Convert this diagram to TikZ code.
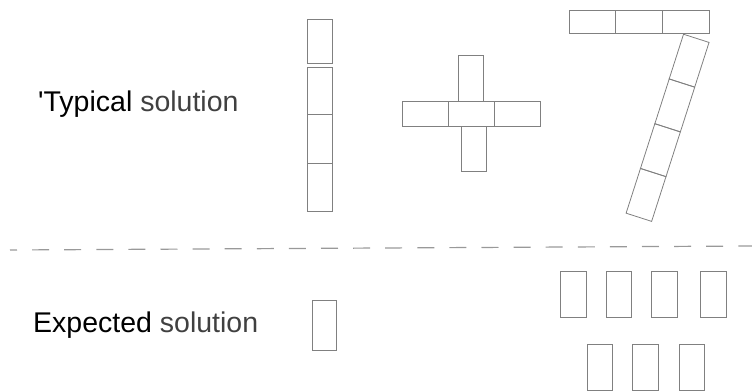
\documentclass[tikz,border=0pt]{standalone}
\usepackage{fontspec}
\newfontfamily\lbl{Liberation Sans}[Ligatures=TeXOff]
\begin{document}
\begin{tikzpicture}[x=1pt,y=-1pt,
  brick/.style={draw=black!50,line width=0.8pt},
  rbrick/.style={draw=black!50,line width=0.8pt,rectangle,inner sep=0pt,outer sep=0pt,
    minimum width=26.8pt,minimum height=47pt,rotate=-17.8},
  sep/.style={draw=black!40,line width=1.2pt,dash pattern=on 17pt off 15.1pt,dash phase=10pt},
  lab/.style={anchor=base west,inner sep=0pt,font=\lbl\fontsize{28.5}{32}\selectfont}]
\useasboundingbox (0,0) rectangle (752,391);
% labels
\node[lab] (typ) at (38,111.7) {\textquotesingle Typical {\color{black!75}solution}};
\node[lab] (exp) at (33,332.7) {Expected {\color{black!75}solution}};
% "1"
\draw[brick] (307,19) rectangle (332,63.5);
\draw[brick] (307,67) rectangle (332,114);
\draw[brick] (307,114) rectangle (332,163);
\draw[brick] (307.5,163) rectangle (332.3,211);
% "+"
\draw[brick] (458,55) rectangle (483,101.7);
\draw[brick] (402.7,101.7) rectangle (448.7,126);
\draw[brick] (448.7,101.7) rectangle (494.7,126);
\draw[brick] (494.7,101.7) rectangle (540,126);
\draw[brick] (461,126) rectangle (486,171.7);
% "7"
\draw[brick] (569,10.7) rectangle (615.7,33.3);
\draw[brick] (615.7,10.7) rectangle (662.7,33.3);
\draw[brick] (662.7,10.7) rectangle (709,33.3);
\node[rbrick] (s1) at (689.1,60.7) {};
\node[rbrick] (s2) at (674.8,105.4) {};
\node[rbrick] (s3) at (660.4,150.2) {};
\node[rbrick] (s4) at (646.05,194.9) {};
% separator
\draw[sep] (10,250) -- (752,246);
% expected
\draw[brick] (312,300.7) rectangle (336.5,350);
\draw[brick] (560.7,271) rectangle (586.7,317.7);
\draw[brick] (606.7,271) rectangle (631.7,317.7);
\draw[brick] (651.7,271) rectangle (677.3,317.7);
\draw[brick] (700,271) rectangle (726,317.7);
\draw[brick] (587.3,344.3) rectangle (612.7,390);
\draw[brick] (632.7,344.3) rectangle (658.3,390);
\draw[brick] (679,344.3) rectangle (704,390);
\end{tikzpicture}
\end{document}
